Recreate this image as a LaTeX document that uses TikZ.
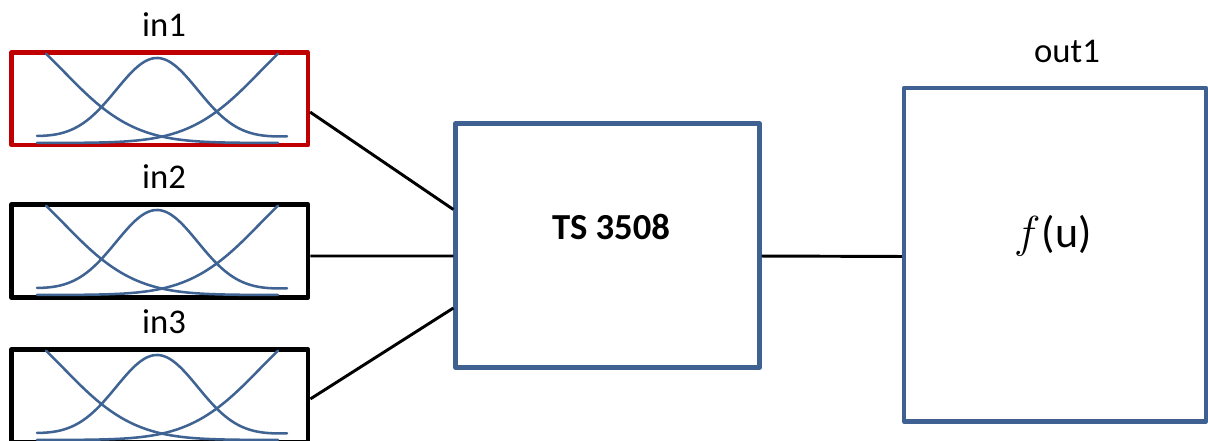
\documentclass[tikz,border=0pt]{standalone}
\usepackage{fontspec}
\usepackage{graphicx}
\setmainfont{Carlito}
\definecolor{mfblue}{HTML}{3F6392}
\definecolor{boxblue}{HTML}{3E6191}
\definecolor{boxred}{HTML}{C00000}
\begin{document}
\begin{tikzpicture}[x=0.75pt,y=-0.75pt,
  lbl/.style={font=\fontsize{26}{30}\selectfont, anchor=base, inner sep=0pt},
  mfbox/.style={draw, line width=3.2pt, minimum width=296.5*0.75pt, minimum height=92.5*0.75pt, inner sep=0pt, line join=round},
  bigbox/.style={draw=boxblue, line width=3.2pt, inner sep=0pt, line join=round},
  mf/.style={draw=mfblue, line width=1.9pt, line cap=round},
  wire/.style={draw=black, line width=2.2pt}]
\useasboundingbox (0,0) rectangle (1208,441);
% input boxes
\node[mfbox, draw=boxred] (in1) at (159.75,98.75) {};
\node[mfbox, draw=black, line width=3.6pt] (in2) at (159.75,251) {};
\node[mfbox, draw=black, line width=3.6pt] (in3) at (159.75,396) {};
\node[lbl] (l1) at (164,37) {in1};
\node[lbl] (l2) at (164,189) {in2};
\node[lbl] (l3) at (164,334) {in3};
% membership functions
\foreach \dy in {0,152,297}{
  \begin{scope}[shift={(0,\dy)}]
    \draw[mf] plot[domain=46:278, samples=70, smooth] (\x, {143-117*exp(-((\x+5)/100)^2/0.9606)});
    \draw[mf] plot[domain=37:278, samples=70, smooth] (\x, {143-117*exp(-((\x-329)/100)^2/0.9606)});
    \draw[mf] plot[domain=37:287, samples=90, smooth] (\x, {142-84*exp(-((\x-157)/100)^2/0.34)-5*((\x-160)/125)^2});
  \end{scope}
}
% TS box
\node[bigbox, minimum width=304*0.75pt, minimum height=244*0.75pt] (ts) at (607.5,245.5) {};
\node[font=\fontsize{27.5}{31}\selectfont\bfseries, inner sep=0pt] (tsl) at (611,227) {TS 3508};
% out box
\node[bigbox, minimum width=302*0.75pt, minimum height=333.5*0.75pt] (out) at (1055,254.75) {};
\node[lbl] (ol) at (1067,63) {out1};
\node[font=\fontsize{33}{38}\selectfont, inner sep=0pt] (fu) at (1053,236) {\scalebox{1.35}{$f$}\kern1pt(u)};
% connectors
\draw[wire] ([yshift=-10pt]in1.east) -- ([yshift=27pt]ts.west);
\draw[wire] ([yshift=-3.75pt]in2.east) -- ([yshift=-7.9pt]ts.west);
\draw[wire] ([yshift=-2.2pt]in3.east) -- ([yshift=-46.9pt]ts.west);
\draw[wire] ([yshift=-7.9pt]ts.east) -- ([yshift=-1.3pt]out.west);
\end{tikzpicture}
\end{document}
